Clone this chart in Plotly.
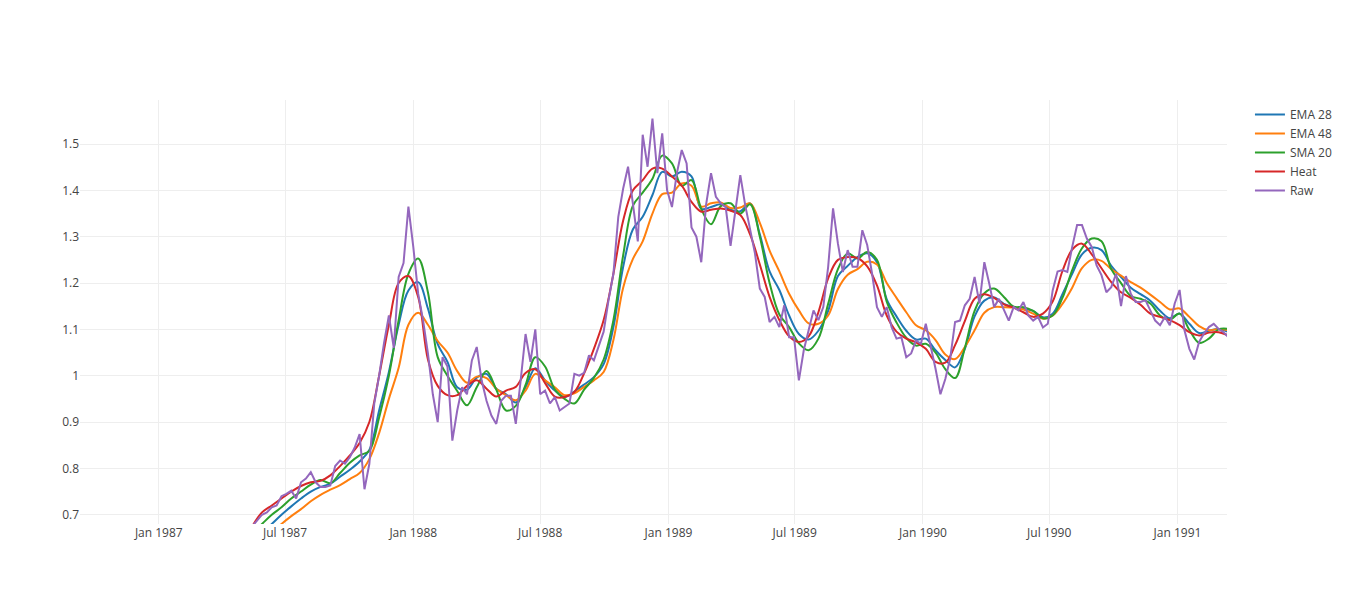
import pandas as pd
import plotly.graph_objects as go

# Weekly raw readings starting 1987-05-15
raw_start = "1987-05-15"
raw = [0.675, 0.687, 0.70, 0.705, 0.716, 0.72, 0.74, 0.745, 0.752, 0.735,
       0.77, 0.778, 0.792, 0.77, 0.76, 0.76, 0.763, 0.805, 0.817, 0.81,
       0.824, 0.845, 0.874, 0.755, 0.81, 0.94, 1.0, 1.07, 1.13, 1.06,
       1.213, 1.243, 1.365, 1.278, 1.177, 1.12, 1.048, 0.96, 0.90, 1.04,
       1.02, 0.86, 0.925, 0.975, 0.96, 1.033, 1.062, 0.99, 0.946, 0.914,
       0.896, 0.946, 0.957, 0.957, 0.896, 0.99, 1.09, 1.03, 1.10, 0.96,
       0.968, 0.94, 0.954, 0.925, 0.932, 0.94, 1.004, 1.0, 1.006, 1.044,
       1.033, 1.062, 1.095, 1.163, 1.22, 1.343, 1.404, 1.451, 1.364, 1.29,
       1.52, 1.451, 1.555, 1.437, 1.523, 1.40, 1.364, 1.437, 1.487, 1.458,
       1.32, 1.30, 1.245, 1.37, 1.437, 1.386, 1.372, 1.364, 1.28, 1.357,
       1.433, 1.368, 1.318, 1.264, 1.188, 1.17, 1.116, 1.127, 1.105, 1.152,
       1.083, 1.083, 0.99, 1.055, 1.098, 1.141, 1.12, 1.148, 1.235, 1.361,
       1.285, 1.224, 1.271, 1.235, 1.235, 1.314, 1.282, 1.22, 1.148, 1.127,
       1.148, 1.105, 1.08, 1.083, 1.04, 1.048, 1.076, 1.069, 1.112, 1.065,
       1.015, 0.96, 0.993, 1.037, 1.116, 1.119, 1.152, 1.166, 1.213, 1.156,
       1.245, 1.199, 1.148, 1.166, 1.141, 1.119, 1.148, 1.141, 1.159, 1.13,
       1.119, 1.127, 1.104, 1.112, 1.184, 1.225, 1.228, 1.224, 1.278, 1.325,
       1.325, 1.296, 1.278, 1.238, 1.217, 1.18, 1.191, 1.22, 1.15, 1.215,
       1.177, 1.159, 1.159, 1.163, 1.141, 1.119, 1.109, 1.127, 1.109, 1.156,
       1.185, 1.098, 1.058, 1.035, 1.073, 1.091, 1.105, 1.112, 1.101, 1.094,
       1.083]

# Bi-weekly readings of the smoothed lines starting 1987-05-15
smooth_start = "1987-05-15"
ema28 = [0.64, 0.66, 0.68, 0.70, 0.718, 0.735, 0.75, 0.76, 0.767, 0.782,
         0.797, 0.815, 0.84, 0.925, 1.008, 1.11, 1.184, 1.202, 1.145, 1.068,
         1.03, 0.975, 0.97, 0.996, 1.004, 0.972, 0.96, 0.942, 0.975, 1.016,
         0.99, 0.968, 0.954, 0.966, 0.981, 0.997, 1.025, 1.105, 1.235, 1.316,
         1.343, 1.39, 1.44, 1.43, 1.44, 1.43, 1.36, 1.364, 1.37, 1.358,
         1.355, 1.372, 1.305, 1.225, 1.185, 1.13, 1.09, 1.078, 1.097, 1.14,
         1.215, 1.237, 1.256, 1.264, 1.245, 1.165, 1.128, 1.097, 1.078, 1.08,
         1.055, 1.034, 1.018, 1.058, 1.128, 1.162, 1.169, 1.155, 1.148, 1.144,
         1.14, 1.126, 1.134, 1.176, 1.22, 1.262, 1.276, 1.271, 1.237, 1.213,
         1.19, 1.176, 1.162, 1.14, 1.124, 1.134, 1.112, 1.092, 1.097, 1.101,
         1.094]
ema48 = [0.62, 0.64, 0.66, 0.68, 0.697, 0.712, 0.729, 0.743, 0.754, 0.764,
         0.777, 0.79, 0.82, 0.876, 0.95, 1.017, 1.11, 1.136, 1.11, 1.075,
         1.05, 1.01, 0.985, 0.998, 0.995, 0.972, 0.958, 0.947, 0.968, 1.004,
         0.99, 0.975, 0.958, 0.962, 0.976, 0.99, 1.008, 1.077, 1.19, 1.252,
         1.29, 1.35, 1.392, 1.395, 1.415, 1.41, 1.365, 1.372, 1.374, 1.362,
         1.363, 1.372, 1.33, 1.27, 1.225, 1.177, 1.141, 1.113, 1.112, 1.13,
         1.187, 1.218, 1.23, 1.246, 1.24, 1.20, 1.168, 1.137, 1.109, 1.098,
         1.077, 1.046, 1.036, 1.062, 1.098, 1.136, 1.148, 1.148, 1.147, 1.143,
         1.134, 1.123, 1.13, 1.155, 1.19, 1.232, 1.25, 1.248, 1.23, 1.216,
         1.202, 1.19, 1.175, 1.159, 1.143, 1.145, 1.127, 1.107, 1.098, 1.101,
         1.098]
sma20 = [0.66, 0.68, 0.70, 0.716, 0.735, 0.75, 0.765, 0.775, 0.768, 0.79,
         0.812, 0.828, 0.838, 0.91, 1.00, 1.12, 1.22, 1.253, 1.18, 1.04,
         1.0, 0.967, 0.936, 0.975, 1.01, 0.97, 0.925, 0.935, 0.98, 1.04,
         1.02, 0.97, 0.95, 0.94, 0.97, 0.995, 1.035, 1.12, 1.26, 1.367,
         1.395, 1.425, 1.475, 1.458, 1.41, 1.422, 1.36, 1.327, 1.366, 1.372,
         1.35, 1.37, 1.30, 1.20, 1.132, 1.105, 1.07, 1.055, 1.08, 1.155,
         1.23, 1.264, 1.253, 1.267, 1.25, 1.16, 1.115, 1.082, 1.065, 1.069,
         1.05, 1.014, 0.995, 1.06, 1.14, 1.178, 1.188, 1.17, 1.149, 1.148,
         1.14, 1.124, 1.13, 1.168, 1.228, 1.275, 1.296, 1.29, 1.23, 1.20,
         1.172, 1.166, 1.156, 1.13, 1.121, 1.134, 1.099, 1.071, 1.08, 1.10,
         1.101]
heat = [0.675, 0.705, 0.72, 0.735, 0.75, 0.762, 0.77, 0.773, 0.785, 0.805,
        0.828, 0.855, 0.90, 1.0, 1.11, 1.20, 1.215, 1.17, 1.035, 0.978,
        0.958, 0.958, 0.978, 0.99, 0.972, 0.955, 0.968, 0.976, 1.006, 1.014,
        0.984, 0.955, 0.954, 0.965, 1.005, 1.058, 1.12, 1.22, 1.335, 1.40,
        1.422, 1.447, 1.447, 1.43, 1.41, 1.375, 1.354, 1.358, 1.361, 1.356,
        1.347, 1.305, 1.24, 1.17, 1.12, 1.085, 1.073, 1.085, 1.137, 1.21,
        1.25, 1.256, 1.254, 1.236, 1.195, 1.13, 1.095, 1.08, 1.072, 1.058,
        1.03, 1.028, 1.066, 1.118, 1.166, 1.176, 1.168, 1.154, 1.147, 1.137,
        1.127, 1.134, 1.16, 1.226, 1.272, 1.285, 1.262, 1.232, 1.202, 1.18,
        1.168, 1.153, 1.134, 1.127, 1.12, 1.109, 1.094, 1.087, 1.093, 1.094,
        1.087]

raw_dates = pd.date_range(raw_start, periods=len(raw), freq="7D")
smooth_dates = pd.date_range(smooth_start, periods=len(ema28), freq="14D")

series = [
    ("EMA 28", smooth_dates, ema28, "#1f77b4"),
    ("EMA 48", smooth_dates, ema48, "#ff7f0e"),
    ("SMA 20", smooth_dates, sma20, "#2ca02c"),
    ("Heat", smooth_dates, heat, "#d62728"),
    ("Raw", raw_dates, raw, "#9467bd"),
]

fig = go.Figure()
for name, xs, ys, color in series:
    fig.add_trace(go.Scatter(
        x=xs, y=ys, mode="lines", name=name,
        line=dict(color=color, width=2,
                  shape="spline" if name != "Raw" else "linear"),
    ))

fig.update_layout(
    template="none",
    width=1350, height=604,
    margin=dict(l=80, r=80, t=100, b=80),
    xaxis=dict(range=["1986-09-10", "1991-03-13"], showgrid=True,
               gridcolor="#eee", zeroline=False),
    yaxis=dict(range=[0.68, 1.595], dtick=0.1, showgrid=True,
               gridcolor="#eee", zeroline=False),
    font=dict(color="#444", size=12),
)

fig.write_html(
    "out.html",
    config={"displayModeBar": False},
    post_script="document.body.style.margin='0';document.body.style.overflow='hidden';",
)
